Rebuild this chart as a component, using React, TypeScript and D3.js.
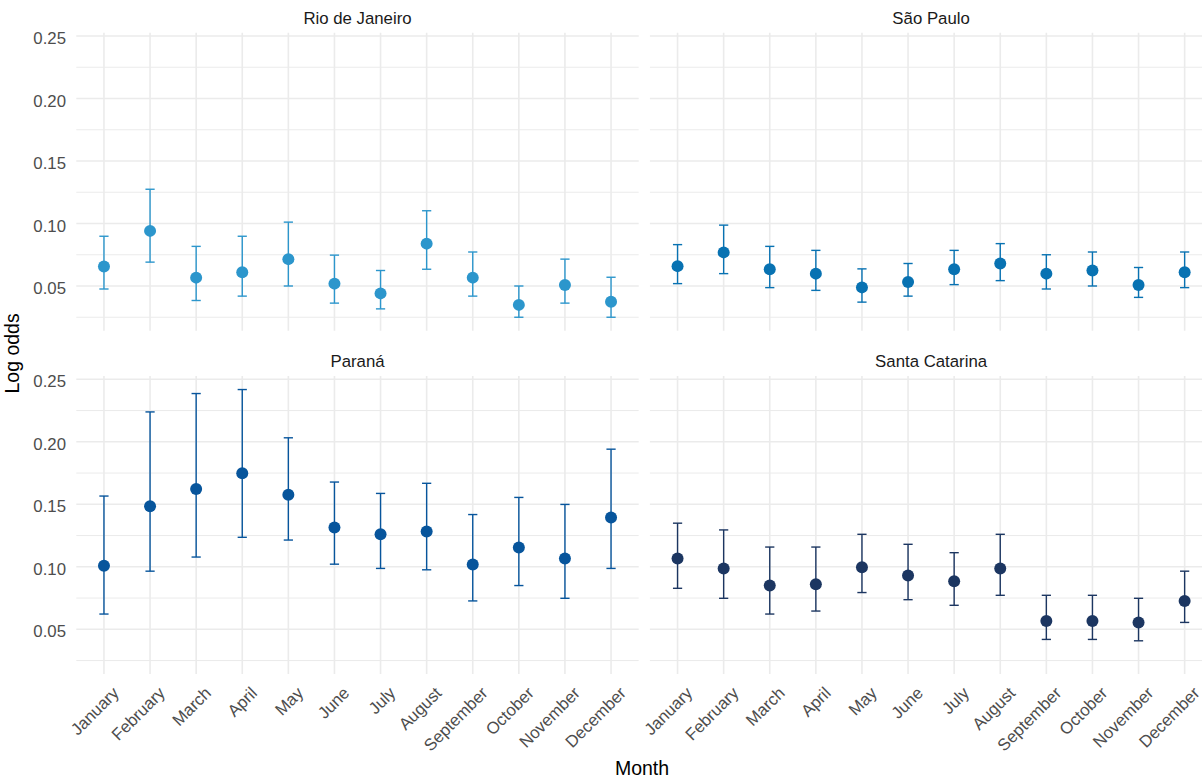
import React from "react";
import * as d3 from "d3";

const months = ["January","February","March","April","May","June","July","August","September","October","November","December"];
const states = ["Rio de Janeiro", "São Paulo", "Paraná", "Santa Catarina"];

const rioEst = [0.0656, 0.0941, 0.0567, 0.0610, 0.0715, 0.0519, 0.0441, 0.0839, 0.0567, 0.0349, 0.0508, 0.0374];
const rioLo  = [0.0476, 0.0691, 0.0384, 0.0419, 0.0500, 0.0363, 0.0317, 0.0634, 0.0419, 0.0250, 0.0363, 0.0250];
const rioHi  = [0.0898, 0.1274, 0.0817, 0.0898, 0.1011, 0.0747, 0.0624, 0.1102, 0.0772, 0.0500, 0.0715, 0.0570];

const spEst = [0.0659, 0.0769, 0.0634, 0.0599, 0.0489, 0.0532, 0.0634, 0.0680, 0.0599, 0.0624, 0.0508, 0.0610];
const spLo  = [0.0519, 0.0599, 0.0487, 0.0465, 0.0371, 0.0419, 0.0511, 0.0543, 0.0476, 0.0500, 0.0409, 0.0487];
const spHi  = [0.0831, 0.0987, 0.0817, 0.0785, 0.0637, 0.0680, 0.0785, 0.0839, 0.0750, 0.0772, 0.0648, 0.0772];

const prEst = [0.1008, 0.1485, 0.1622, 0.1748, 0.1576, 0.1314, 0.1260, 0.1282, 0.1019, 0.1155, 0.1067, 0.1394];
const prLo  = [0.0622, 0.0965, 0.1078, 0.1236, 0.1214, 0.1021, 0.0987, 0.0976, 0.0727, 0.0850, 0.0748, 0.0987];
const prHi  = [0.1566, 0.2239, 0.2386, 0.2418, 0.2032, 0.1678, 0.1587, 0.1668, 0.1418, 0.1555, 0.1499, 0.1941];

const scEst = [0.1067, 0.0987, 0.0850, 0.0861, 0.0997, 0.0930, 0.0885, 0.0987, 0.0566, 0.0566, 0.0555, 0.0726];
const scLo  = [0.0828, 0.0748, 0.0622, 0.0646, 0.0794, 0.0737, 0.0692, 0.0772, 0.0419, 0.0419, 0.0408, 0.0555];
const scHi  = [0.1349, 0.1295, 0.1158, 0.1158, 0.1260, 0.1180, 0.1113, 0.1260, 0.0772, 0.0772, 0.0748, 0.0965];

const yTicks = [0.05, 0.10, 0.15, 0.20, 0.25];
const yTickLabels = ["0.05", "0.10", "0.15", "0.20", "0.25"];
const yMinor = [0.025, 0.075, 0.125, 0.175, 0.225];

const stateColors = ["#2C96CC", "#0872B2", "#07559C", "#1C3661"];

const series = [
  { est: rioEst, lo: rioLo, hi: rioHi },
  { est: spEst, lo: spLo, hi: spHi },
  { est: prEst, lo: prLo, hi: prHi },
  { est: scEst, lo: scLo, hi: scHi },
];

const W = 1202;
const H = 780;
const FONT = "'Liberation Sans', Arial, sans-serif";

export default function App() {
  const allVals = series.flatMap((s) => [...s.lo, ...s.hi, ...s.est]);
  const vMin = d3.min(allVals) as number;
  const vMax = d3.max(allVals) as number;
  const pad = (vMax - vMin) * 0.05;
  const domain: [number, number] = [vMin - pad, vMax + pad];

  const colX = [[76.3, 638.7], [649.9, 1212.3]];
  const rowY = [[32.7, 330.8], [376.0, 674.1]];

  const panels = states.map((name, i) => {
    const col = i % 2;
    const row = Math.floor(i / 2);
    const [x0, x1] = colX[col];
    const [y0, y1] = rowY[row];
    const x = d3.scalePoint<string>().domain(months).range([x0, x1]).padding(0.6);
    const y = d3.scaleLinear().domain(domain).range([y1, y0]);
    return { name, col, row, x0, x1, y0, y1, x, y, s: series[i], color: stateColors[i] };
  });

  return (
    <svg width={W} height={H} style={{ position: "absolute", left: 0, top: 0, background: "#fff" }} fontFamily={FONT}>
      <rect x={0} y={0} width={W} height={H} fill="#fff" />
      {panels.map((p, pi) => {
        const step = p.x.step();
        const capHalf = step * 0.2 / 2;
        return (
          <g key={pi}>
            {yMinor.map((v, k) => (
              <line key={"mi" + k} x1={p.x0} x2={p.x1} y1={p.y(v)} y2={p.y(v)} stroke="#EBEBEB" strokeWidth={1} />
            ))}
            {yTicks.map((v, k) => (
              <line key={"ma" + k} x1={p.x0} x2={p.x1} y1={p.y(v)} y2={p.y(v)} stroke="#EBEBEB" strokeWidth={1.6} />
            ))}
            {months.map((m, k) => (
              <line key={"vx" + k} x1={p.x(m)} x2={p.x(m)} y1={p.y0} y2={p.y1} stroke="#EBEBEB" strokeWidth={1.6} />
            ))}
            <text x={(p.x0 + p.x1) / 2} y={p.y0 - 9} textAnchor="middle" fontSize={16.8} fill="#1A1A1A">{p.name}</text>
            {p.col === 0 && yTicks.map((v, k) => (
              <text key={"yl" + k} x={66} y={p.y(v) + 8} textAnchor="end" fontSize={16.8} fill="#4D4D4D">{yTickLabels[k]}</text>
            ))}
            {p.row === 1 && months.map((m, k) => {
              const px = (p.x(m) as number) + 16;
              const py = p.y1 + 20;
              return (
                <text key={"xl" + k} transform={`translate(${px},${py}) rotate(-45)`} textAnchor="end" fontSize={16.8} fill="#4D4D4D">{m}</text>
              );
            })}
            {months.map((m, k) => {
              const cx = p.x(m) as number;
              const yl = p.y(p.s.lo[k]);
              const yh = p.y(p.s.hi[k]);
              return (
                <g key={"eb" + k} stroke={p.color} strokeWidth={1.4} fill="none">
                  <line x1={cx} x2={cx} y1={yl} y2={yh} />
                  <line x1={cx - capHalf} x2={cx + capHalf} y1={yh} y2={yh} />
                  <line x1={cx - capHalf} x2={cx + capHalf} y1={yl} y2={yl} />
                </g>
              );
            })}
            {months.map((m, k) => (
              <circle key={"pt" + k} cx={p.x(m) as number} cy={p.y(p.s.est[k])} r={6} fill={p.color} />
            ))}
          </g>
        );
      })}
      <text x={642} y={775} textAnchor="middle" fontSize={19.5} fill="#000">Month</text>
      <text transform={`translate(19,${(32.7 + 674.1) / 2}) rotate(-90)`} textAnchor="middle" fontSize={19.5} fill="#000">Log odds</text>
    </svg>
  );
}
